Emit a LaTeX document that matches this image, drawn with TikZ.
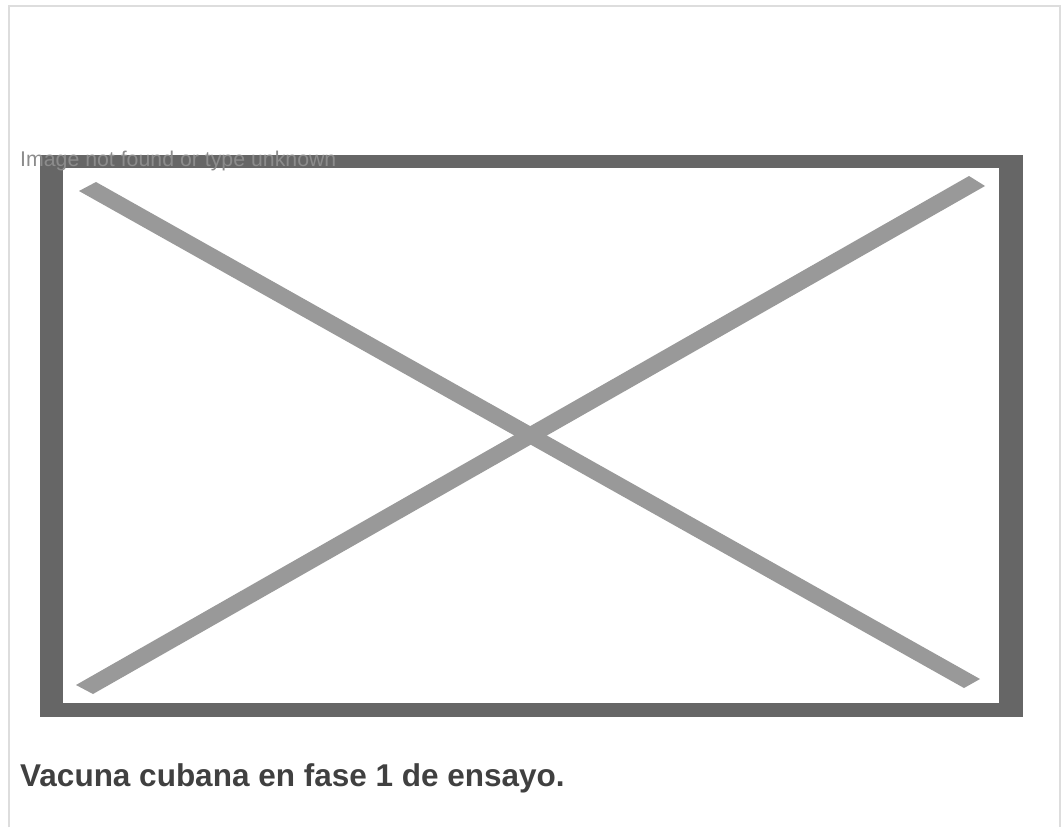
\documentclass[tikz,border=0pt]{standalone}
\usepackage{fontspec}
\setmainfont{Liberation Sans}
\usetikzlibrary{positioning}
\definecolor{framegray}{HTML}{DDDDDD}
\definecolor{boxgray}{HTML}{666666}
\definecolor{crossgray}{HTML}{999999}
\definecolor{alttext}{HTML}{8C8C8C}
\definecolor{captiontext}{HTML}{404040}
\tikzset{
  panel/.style = {draw=framegray, line width=2pt},
  crossbar/.style = {fill=crossgray},
  alttxt/.style = {text=alttext, font=\fontsize{21.3}{25}\selectfont, inner sep=0pt, anchor=base west},
  captiontxt/.style = {text=captiontext, font=\bfseries\fontsize{31.5}{36}\selectfont, inner sep=0pt, anchor=base west}
}

\begin{document}
\begin{tikzpicture}[x=1pt, y=-1pt]

  \useasboundingbox (0,0) rectangle (1064,827);

  % Panel
  \draw[panel] (8.5,827) -- (8.5,5.5) -- (1059.5,5.5) -- (1059.5,827);

  % Broken image box
  \fill[boxgray] (40,155) rectangle (1023,717);
  \fill[white] (63,168) rectangle (999,703);

  % Cross
  \fill[crossbar] (79,191) -- (96,182) -- (980,679) -- (964,688) -- cycle;
  \fill[crossbar] (76,685) -- (969,176) -- (985,186) -- (93,694) -- cycle;

  % Texts
  \node[alttxt] (alt) at (20,166) {Image not found or type unknown};
  \node[captiontxt] (caption) at (20,786) {Vacuna cubana en fase 1 de ensayo.};

\end{tikzpicture}
\end{document}
